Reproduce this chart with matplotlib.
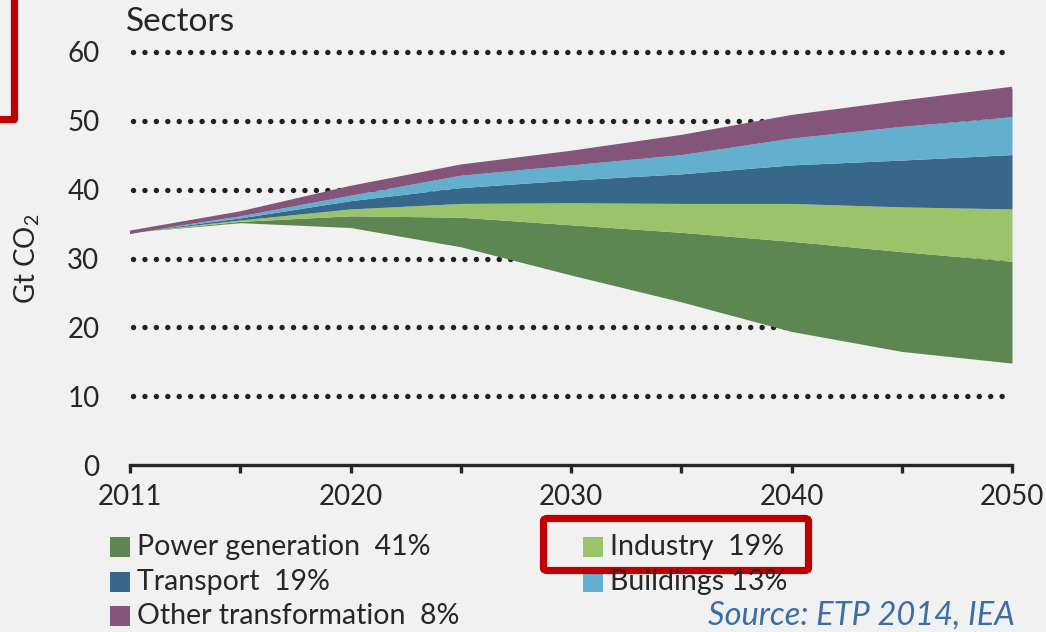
import numpy as np
import matplotlib
matplotlib.use('Agg')
import matplotlib.pyplot as plt
from matplotlib.patches import Rectangle, FancyBboxPatch
from matplotlib.lines import Line2D

plt.rcParams['font.family'] = ['Lato', 'DejaVu Sans']
plt.rcParams['mathtext.default'] = 'regular'

years = ['2011', '2015', '2020', '2025', '2030', '2035', '2040', '2045', '2050']
tick_labels = ['2011', '', '2020', '', '2030', '', '2040', '', '2050']

# remaining emissions (not drawn, it is the empty part under the wedges)
remaining = [33.8, 35.2, 34.5, 31.7, 27.6, 23.7, 19.4, 16.5, 14.8]
# reduction wedges, Gt CO2
power = [0, 0.2, 1.7, 4.3, 7.3, 10.1, 13.1, 14.5, 14.8]
industry = [0, 0.2, 1.0, 2.0, 3.2, 4.2, 5.5, 6.5, 7.6]
transport = [0, 0.3, 1.2, 2.3, 3.3, 4.3, 5.6, 6.8, 7.9]
buildings = [0, 0.3, 0.8, 1.8, 2.2, 2.8, 3.9, 4.9, 5.5]
other = [0, 0.4, 1.1, 1.3, 1.8, 2.6, 3.1, 3.5, 4.1]

names = ['Power generation  41%', 'Industry  19%', 'Transport  19%',
         'Buildings 13%', 'Other transformation  8%']
colors = ['#5e8653', '#9bc46a', '#37678b', '#62afcf', '#84557a']

bg = '#f1f1f1'
ink = '#262626'
W, H = 1046, 632

def fx(px):
    return px / W

def fy(py):
    return 1 - py / H

fig = plt.figure(figsize=(W / 100, H / 100), dpi=100, facecolor=bg)
ax = fig.add_axes([fx(130), fy(465), fx(1012) - fx(130), fy(52) - fy(465)])
ax.set_facecolor(bg)

x = np.arange(len(years))
bottom = np.array(remaining, dtype=float)
series = [power, industry, transport, buildings, other]
for vals, c in zip(series, colors):
    top = bottom + np.array(vals)
    ax.fill_between(x, bottom, top, color=c, linewidth=0, zorder=3)
    bottom = top
# purple edge along the top of the stack
ax.plot(x, bottom, color=colors[4], linewidth=2.5, solid_capstyle='round', zorder=4)

ax.set_xlim(0, len(years) - 1)
ax.set_ylim(0, 60)
ax.set_yticks(range(0, 61, 10))
ax.set_xticks(x)
ax.set_xticklabels(tick_labels)

# dotted gridlines, round dots
for yv in range(10, 61, 10):
    ax.axhline(yv, xmin=0.003, xmax=0.997, color='#222222', linewidth=3.9,
               linestyle=(0, (0.01, 2.1)), dash_capstyle='round', zorder=1,
               clip_on=False)

for s in ['top', 'right', 'left']:
    ax.spines[s].set_visible(False)
ax.spines['bottom'].set_linewidth(2.4)
ax.spines['bottom'].set_color(ink)
ax.spines['bottom'].set_zorder(5)
ax.tick_params(axis='y', length=0, pad=22, labelsize=20, labelcolor=ink)
ax.tick_params(axis='x', direction='out', length=6, width=2.4, color=ink,
               pad=8, labelsize=20, labelcolor=ink)

ax.set_ylabel('Gt CO$_2$', fontsize=20, color=ink, labelpad=18)
fig.text(fx(126), fy(22), 'Sectors', fontsize=24, color=ink,
         ha='left', va='center')

# legend, placed by hand: (column x, row y) in pixels
legend_pos = [(110, 547), (583, 547), (110, 582), (583, 582), (110, 616)]
for (px, py), name, c in zip(legend_pos, names, colors):
    fig.patches.append(Rectangle((fx(px), fy(py + 10)), fx(20), 20 / H,
                                 transform=fig.transFigure, facecolor=c,
                                 edgecolor='none'))
    fig.text(fx(px + 27), fy(py), name, fontsize=20.5, color=ink,
             ha='left', va='center')

# red highlight boxes
fig.patches.append(FancyBboxPatch((fx(543.5), fy(570.5)), fx(808.5) - fx(543.5),
                                  fy(518.5) - fy(570.5),
                                  boxstyle='round,pad=0,rounding_size=0.004',
                                  transform=fig.transFigure, fill=False,
                                  edgecolor='#c00000', linewidth=5.2))
fig.lines.append(Line2D([fx(14), fx(14), fx(-5)], [fy(-5), fy(119), fy(119)],
                        transform=fig.transFigure, color='#c00000', linewidth=5.2))

fig.text(fx(708), fy(625), 'Source: ETP 2014, IEA', fontsize=23.5, style='italic',
         color='#3c6ea6', ha='left', va='baseline')

fig.savefig('out.png', dpi=100, facecolor=bg)
